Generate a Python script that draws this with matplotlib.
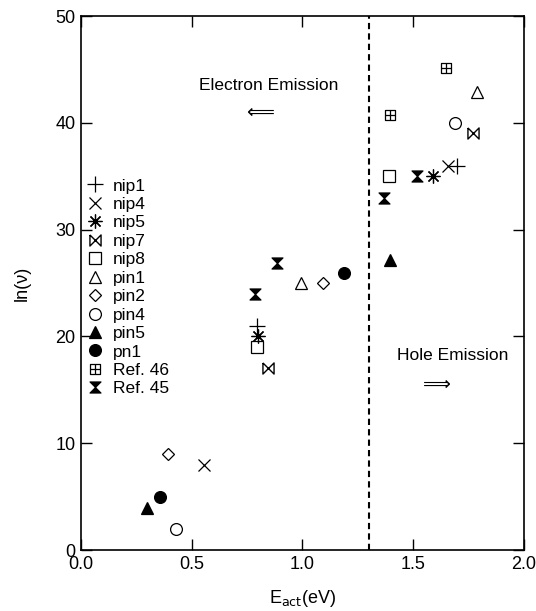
import matplotlib
matplotlib.use("Agg")
import matplotlib.pyplot as plt
from matplotlib.path import Path

plt.rcParams['font.family'] = ['Liberation Sans', 'DejaVu Sans']

# data
labels = ["nip1", "nip4", "nip5", "nip7", "nip8", "pin1", "pin2", "pin4",
          "pin5", "pn1", "Ref. 46", "Ref. 45"]
x_nip1 = [0.795, 1.70]; y_nip1 = [21, 36]
x_nip4 = [0.555, 1.657]; y_nip4 = [8, 36]
x_nip5 = [0.80, 1.59]; y_nip5 = [20, 35]
x_nip7 = [0.845, 1.77]; y_nip7 = [17, 39]
x_nip8 = [0.795, 1.39]; y_nip8 = [19, 35]
x_pin1 = [0.993, 1.79]; y_pin1 = [25, 42.9]
x_pin2 = [0.393, 1.093]; y_pin2 = [9, 25]
x_pin4 = [0.429, 1.69]; y_pin4 = [2, 40]
x_pin5 = [0.298, 1.395]; y_pin5 = [3.9, 27.2]
x_pn1 = [0.357, 1.19]; y_pn1 = [5, 25.9]
x_ref46 = [1.395, 1.65]; y_ref46 = [40.7, 45.1]
x_ref45 = [0.786, 0.885, 1.37, 1.52]; y_ref45 = [24, 26.9, 33, 35]
boundary = 1.3

# custom markers
hourglass = Path([(-1, 1), (1, 1), (0, 0), (-1, 1),
                  (-1, -1), (1, -1), (0, 0), (-1, -1)],
                 [Path.MOVETO, Path.LINETO, Path.LINETO, Path.CLOSEPOLY,
                  Path.MOVETO, Path.LINETO, Path.LINETO, Path.CLOSEPOLY])
bowtie = Path([(-1, 1), (-1, -1), (1, 1), (1, -1), (-1, 1)],
              [Path.MOVETO, Path.LINETO, Path.LINETO, Path.LINETO, Path.LINETO])
sqplus = Path([(-1, -1), (1, -1), (1, 1), (-1, 1), (-1, -1),
               (-1, 0), (1, 0), (0, -1), (0, 1)],
              [Path.MOVETO, Path.LINETO, Path.LINETO, Path.LINETO, Path.CLOSEPOLY,
               Path.MOVETO, Path.LINETO, Path.MOVETO, Path.LINETO])

fig = plt.figure(figsize=(5.36, 6.11), dpi=100)
ax = fig.add_axes([0.151, 0.0998, 0.826, 0.874])

series = [
    (x_nip1, y_nip1, dict(marker='+', ms=11, mew=0.9, color='k')),
    (x_nip4, y_nip4, dict(marker='x', ms=9, mew=0.9, color='k')),
    (x_nip5, y_nip5, dict(marker=(8, 2, 0), ms=10, mew=0.9, color='k')),
    (x_nip7, y_nip7, dict(marker=bowtie, ms=8, mew=1.0, color='k', mfc='none')),
    (x_nip8, y_nip8, dict(marker='s', ms=8, mew=0.9, mec='k', mfc='none')),
    (x_pin1, y_pin1, dict(marker='^', ms=9, mew=0.9, mec='k', mfc='none')),
    (x_pin2, y_pin2, dict(marker='D', ms=6.5, mew=0.9, mec='k', mfc='none')),
    (x_pin4, y_pin4, dict(marker='o', ms=8.5, mew=0.9, mec='k', mfc='none')),
    (x_pin5, y_pin5, dict(marker='^', ms=9, mew=0.9, mec='k', mfc='k')),
    (x_pn1, y_pn1, dict(marker='o', ms=8.5, mew=0.9, mec='k', mfc='k')),
    (x_ref46, y_ref46, dict(marker=sqplus, ms=7.5, mew=0.9, color='k', mfc='none')),
    (x_ref45, y_ref45, dict(marker=hourglass, ms=8, mew=0.8, mec='k', mfc='k')),
]
for (xs, ys, kw), lab in zip(series, labels):
    ax.plot(xs, ys, linestyle='none', label=lab, **kw)

ax.axvline(boundary, color='k', linestyle=(0, (3, 2)), linewidth=1.5)

ax.set_xlim(0, 2.0)
ax.set_ylim(0, 50)
ax.set_xticks([0.0, 0.5, 1.0, 1.5, 2.0])
ax.set_yticks([0, 10, 20, 30, 40, 50])
ax.tick_params(direction='in', length=8, width=1, top=True, right=True,
               labelsize=13, pad=4)
for s in ax.spines.values():
    s.set_linewidth(1.2)

ax.set_xlabel("E$_{\\mathrm{act}}$(eV)", fontsize=13, labelpad=11)
ax.set_ylabel("ln(ν)", fontsize=13, labelpad=18)

ax.text(0.85, 43.5, "Electron Emission", fontsize=12.5, ha='center', va='center')
ax.text(0.81, 40.9, "⟸", fontsize=14, ha='center', va='center')
ax.text(1.68, 18.2, "Hole Emission", fontsize=12.5, ha='center', va='center')
ax.text(1.61, 15.4, "⟹", fontsize=14, ha='center', va='center')

ax.legend(loc='upper left', bbox_to_anchor=(0.008, 0.696), frameon=False,
          fontsize=12.5, borderpad=0, borderaxespad=0, handlelength=1.2,
          handletextpad=0.45, labelspacing=0.19, numpoints=1)

fig.savefig("out.png", dpi=100)
